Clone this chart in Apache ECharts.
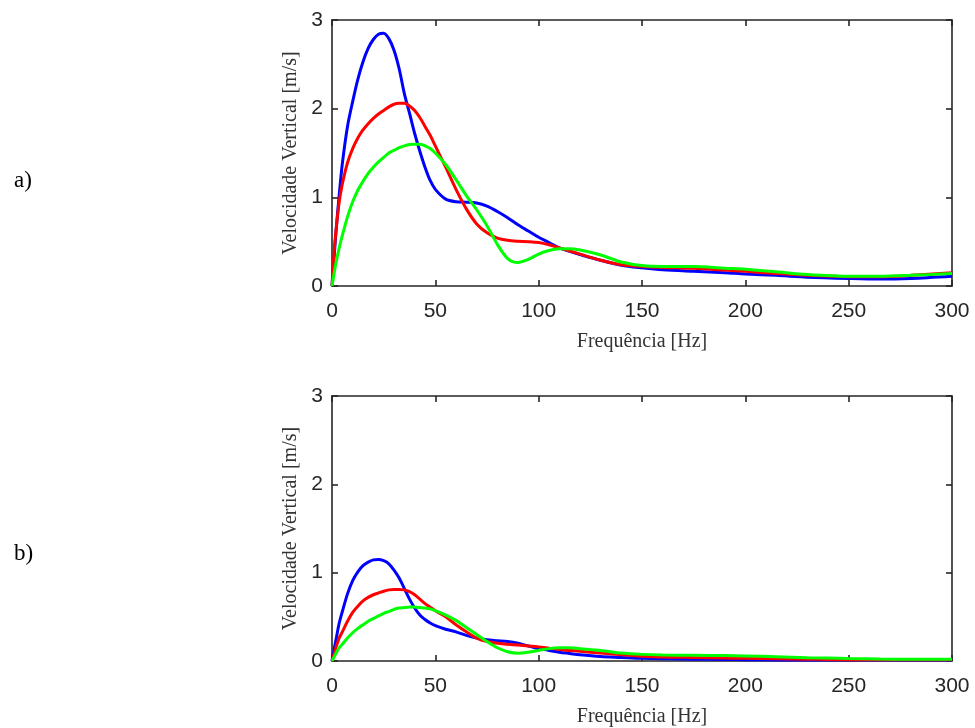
<!DOCTYPE html>
<html>
<head>
<meta charset="utf-8">
<script src="https://cdn.jsdelivr.net/npm/echarts@6/dist/echarts.min.js"></script>
<style>
html,body{margin:0;padding:0;background:#fff;}
#chart{width:975px;height:728px;}
</style>
</head>
<body>
<div id="chart"></div>
<script>
// Frequency samples [Hz]
const freq = [0,1,2,3.5,5,7.5,10,12.5,15,17.5,20,22.5,25,27.5,30,32.5,35,37.5,40,42.5,45,47.5,50,55,60,65,70,75,80,85,90,95,100,105,110,115,120,130,140,150,160,175,190,200,215,230,250,265,280,300];

// Panel a) vertical velocity [m/s]
const aBlue  = [0,0.32,0.63,1.03,1.38,1.8,2.08,2.33,2.53,2.68,2.78,2.84,2.85,2.79,2.66,2.45,2.17,1.95,1.72,1.52,1.34,1.19,1.09,0.98,0.95,0.945,0.935,0.9,0.84,0.77,0.69,0.62,0.55,0.49,0.43,0.39,0.355,0.29,0.235,0.205,0.182,0.165,0.15,0.135,0.12,0.1,0.085,0.078,0.085,0.11];
const aRed   = [0,0.38,0.64,0.95,1.15,1.39,1.55,1.67,1.76,1.83,1.89,1.94,1.98,2.02,2.05,2.06,2.06,2.03,1.98,1.9,1.8,1.7,1.58,1.34,1.09,0.87,0.7,0.6,0.54,0.515,0.505,0.5,0.49,0.465,0.43,0.395,0.36,0.29,0.24,0.22,0.21,0.2,0.18,0.165,0.14,0.12,0.105,0.105,0.12,0.15];
const aGreen = [0,0.14,0.27,0.43,0.57,0.78,0.95,1.08,1.18,1.27,1.34,1.4,1.45,1.5,1.53,1.56,1.58,1.595,1.6,1.6,1.58,1.55,1.5,1.37,1.2,1.02,0.86,0.68,0.47,0.31,0.265,0.3,0.36,0.4,0.42,0.42,0.405,0.35,0.27,0.23,0.22,0.22,0.2,0.19,0.16,0.13,0.11,0.11,0.12,0.14];

// Panel b) vertical velocity [m/s]
const bBlue  = [0,0.13,0.25,0.43,0.56,0.76,0.91,1.01,1.08,1.12,1.145,1.15,1.135,1.1,1.03,0.94,0.82,0.7,0.6,0.52,0.47,0.43,0.4,0.36,0.33,0.29,0.26,0.24,0.23,0.22,0.2,0.17,0.14,0.12,0.1,0.085,0.07,0.05,0.04,0.03,0.025,0.02,0.018,0.015,0.012,0.01,0.01,0.01,0.01,0.01];
const bRed   = [0,0.08,0.16,0.26,0.33,0.45,0.55,0.62,0.68,0.72,0.75,0.77,0.79,0.805,0.81,0.81,0.805,0.785,0.75,0.7,0.65,0.61,0.57,0.5,0.41,0.33,0.26,0.22,0.2,0.19,0.18,0.17,0.16,0.145,0.13,0.12,0.11,0.09,0.07,0.055,0.045,0.04,0.035,0.03,0.025,0.02,0.015,0.015,0.015,0.015];
const bGreen = [0,0.045,0.09,0.15,0.19,0.26,0.32,0.37,0.41,0.45,0.48,0.51,0.54,0.56,0.585,0.6,0.605,0.61,0.61,0.605,0.6,0.59,0.57,0.52,0.46,0.38,0.3,0.22,0.15,0.105,0.088,0.1,0.12,0.14,0.15,0.15,0.14,0.12,0.09,0.075,0.068,0.065,0.062,0.058,0.048,0.038,0.028,0.022,0.02,0.02];

const xTicks = [0,50,100,150,200,250,300];
const yTicks = [0,1,2,3];
const panelLabels = ['a)','b)'];
const xName = 'Frequência [Hz]';
const yName = 'Velocidade Vertical [m/s]';

const colors = ['#0000ff','#ff0000','#00ff00'];
const axisColor = '#262626';
const sansFont = 'Liberation Sans, Arial, sans-serif';
const serifFont = 'Liberation Serif, Times New Roman, serif';

const grids = [
  {left:332, top:20, width:620, height:266},
  {left:332, top:396, width:620, height:267}
];

function pair(xs, ys){ return xs.map((x,i)=>[x, ys[i]]); }

const xAxes = [], yAxes = [], series = [];
grids.forEach((g, gi) => {
  const base = {
    type:'value', gridIndex:gi, min:xTicks[0], max:xTicks[xTicks.length-1], interval:50,
    axisLine:{show:true, onZero:false, lineStyle:{color:axisColor, width:1.6}},
    axisTick:{show:true, inside:true, length:6, lineStyle:{color:axisColor, width:1.6}},
    splitLine:{show:false}
  };
  xAxes.push(Object.assign({}, base, {
    position:'bottom',
    axisLabel:{show:true, color:axisColor, fontFamily:sansFont, fontSize:21, margin:15},
    name:xName, nameLocation:'middle', nameGap:46,
    nameTextStyle:{color:'#333', fontFamily:serifFont, fontSize:20}
  }));
  xAxes.push(Object.assign({}, base, {position:'top', axisLabel:{show:false}}));
  const ybase = {
    type:'value', gridIndex:gi, min:yTicks[0], max:yTicks[yTicks.length-1], interval:1,
    axisLine:{show:true, onZero:false, lineStyle:{color:axisColor, width:1.6}},
    axisTick:{show:true, inside:true, length:6, lineStyle:{color:axisColor, width:1.6}},
    splitLine:{show:false}
  };
  yAxes.push(Object.assign({}, ybase, {
    position:'left',
    axisLabel:{show:true, color:axisColor, fontFamily:sansFont, fontSize:21, margin:9},
    name:yName, nameLocation:'middle', nameGap:27,
    nameTextStyle:{color:'#333', fontFamily:serifFont, fontSize:20}
  }));
  yAxes.push(Object.assign({}, ybase, {position:'right', axisLabel:{show:false}}));
});

const panelData = [[aBlue,aRed,aGreen],[bBlue,bRed,bGreen]];
panelData.forEach((set, gi) => {
  set.forEach((ys, si) => {
    series.push({
      type:'line', xAxisIndex:gi*2, yAxisIndex:gi*2,
      data:pair(freq, ys), smooth:0.3, showSymbol:false, symbol:'none',
      lineStyle:{color:colors[si], width:3}, z:2+si, animation:false
    });
  });
});

const chart = echarts.init(document.getElementById('chart'), null, {renderer:'canvas'});
chart.setOption({
  animation:false,
  backgroundColor:'#fff',
  grid:grids,
  xAxis:xAxes,
  yAxis:yAxes,
  series:series,
  title:[
    {text:panelLabels[0], left:9, top:164, textStyle:{fontFamily:serifFont, fontSize:23, fontWeight:'normal', color:'#000'}},
    {text:panelLabels[1], left:9, top:537, textStyle:{fontFamily:serifFont, fontSize:23, fontWeight:'normal', color:'#000'}}
  ]
});
</script>
</body>
</html>
